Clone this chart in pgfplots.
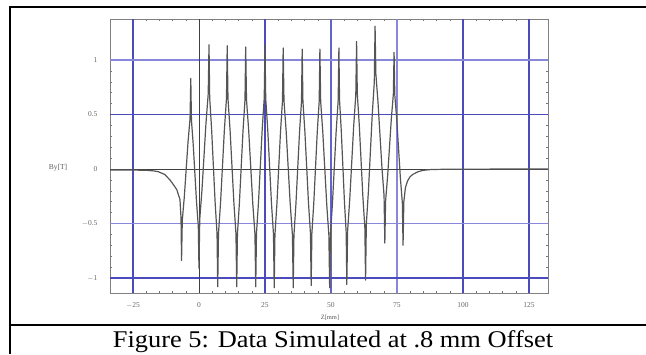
\documentclass[border=0pt]{standalone}
\usepackage{fontspec}
\setmainfont{Liberation Serif}
\usepackage{pgfplots}
\pgfplotsset{compat=1.18}
\usepackage{graphicx}
\definecolor{gridblue}{RGB}{75,75,190}
\definecolor{gridlight}{RGB}{135,135,220}
\definecolor{curvegray}{RGB}{85,85,85}
\begin{document}
\begin{tikzpicture}[x=1pt,y=1pt]
\useasboundingbox (0,0) rectangle (646,354);
% outer frame
\draw[line width=2.2pt] (10,347) -- (646,347);
\draw[line width=2pt] (10,348) -- (10,0);
\draw[line width=2.2pt] (10,29) -- (646,29);
\node[font=\fontsize{24}{25}\selectfont, anchor=base] at (333,6.5) {\scalebox{1.1}[1]{Figure 5: Data Simulated at .8 mm Offset}};
\begin{axis}[
  at={(110pt,61pt)}, anchor=south west,
  scale only axis, width=438pt, height=274pt,
  xmin=-33.7, xmax=132.2, ymin=-1.138, ymax=1.376,
  xtick={-25,0,25,50,75,100,125},
  xticklabels={$-$25,0,25,50,75,100,125},
  ytick={-1,-0.5,0,0.5,1},
  yticklabels={$-$1,$-$0.5,0,0.5,1},
  minor x tick num=4, minor y tick num=4,
  tick align=inside,
  major tick length=3pt, minor tick length=2pt,
  tick style={black!55, line width=0.5pt},
  axis line style={black!50, line width=0.8pt},
  ticklabel style={font=\fontsize{7.5}{8}\selectfont, text=black!60},
  yticklabel style={xshift=-9pt},
  xticklabel style={yshift=-6pt},
  /pgf/number format/assume math mode=true,
  clip=true,
]
% grid
\draw[gridblue, line width=1.1pt] (axis cs:-25,-1.138) -- (axis cs:-25,1.376);
\draw[gridblue, line width=1.1pt] (axis cs:25,-1.138) -- (axis cs:25,1.376);
\draw[gridblue!60!gridlight, line width=1.1pt] (axis cs:50,-1.138) -- (axis cs:50,1.376);
\draw[gridlight, line width=1.1pt] (axis cs:75,-1.138) -- (axis cs:75,1.376);
\draw[gridblue, line width=1.1pt] (axis cs:100,-1.138) -- (axis cs:100,1.376);
\draw[gridblue, line width=1.1pt] (axis cs:125,-1.138) -- (axis cs:125,1.376);
\draw[gridlight, line width=1.1pt] (axis cs:-33.7,1) -- (axis cs:132.2,1);
\draw[gridblue, line width=1.1pt] (axis cs:-33.7,0.5) -- (axis cs:132.2,0.5);
\draw[gridlight, line width=1.1pt] (axis cs:-33.7,-0.5) -- (axis cs:132.2,-0.5);
\draw[gridblue, line width=1.1pt] (axis cs:-33.7,-1) -- (axis cs:132.2,-1);
\draw[black!75, line width=0.9pt] (axis cs:0,-1.138) -- (axis cs:0,1.376);
\draw[black!75, line width=0.9pt] (axis cs:-33.7,0) -- (axis cs:132.2,0);
\addplot[curvegray, line width=1.2pt, line join=round] coordinates {
(-33.7,-0.01) (-25,-0.01) (-20,-0.012) (-17,-0.018) (-15.4,-0.025) (-13,-0.05) (-11,-0.10) (-9.5,-0.15) (-8.4,-0.19) (-7.2,-0.28) (-6.8,-0.45) (-6.6,-0.84)
(-6.32,-0.473) (-5.55,-0.255) (-4.85,-0.005) (-4.15,0.246) (-3.38,0.463) (-3.1,0.83)
(-2.85,0.447) (-2.17,0.221) (-1.55,-0.04) (-0.93,-0.301) (-0.25,-0.527) (0,-0.91)
(0.30,-0.459) (1.14,-0.192) (1.90,0.115) (2.66,0.423) (3.50,0.689) (3.8,1.14)
(4.06,0.652) (4.79,0.363) (5.45,0.03) (6.11,-0.303) (6.84,-0.592) (7.1,-1.08)
(7.39,-0.594) (8.18,-0.306) (8.90,0.025) (9.62,0.357) (10.41,0.644) (10.7,1.13)
(10.99,0.644) (11.78,0.356) (12.50,0.025) (13.22,-0.307) (14.01,-0.594) (14.3,-1.08)
(14.57,-0.596) (15.32,-0.31) (16.0,0.02) (16.68,0.35) (17.43,0.636) (17.7,1.12)
(18.0,0.636) (18.84,0.35) (19.6,0.02) (20.36,-0.31) (21.2,-0.596) (21.5,-1.08)
(21.78,-0.592) (22.55,-0.303) (23.25,0.03) (23.95,0.363) (24.72,0.652) (25.0,1.14)
(25.28,0.649) (26.05,0.359) (26.75,0.025) (27.45,-0.31) (28.22,-0.599) (28.5,-1.09)
(28.77,-0.606) (29.52,-0.32) (30.2,0.01) (30.88,0.34) (31.63,0.626) (31.9,1.11)
(32.2,0.626) (33.04,0.34) (33.8,0.01) (34.56,-0.32) (35.4,-0.606) (35.7,-1.09)
(35.97,-0.608) (36.72,-0.323) (37.4,0.005) (38.08,0.334) (38.83,0.618) (39.1,1.10)
(39.37,0.623) (40.12,0.34) (40.8,0.015) (41.48,-0.311) (42.23,-0.593) (42.5,-1.07)
(42.76,-0.593) (43.49,-0.31) (44.15,0.015) (44.81,0.341) (45.54,0.623) (45.8,1.10)
(46.1,0.618) (46.91,0.333) (47.65,0.005) (48.39,-0.324) (49.2,-0.608) (49.5,-1.09)
(49.78,-0.606) (50.55,-0.32) (51.25,0.01) (51.95,0.34) (52.72,0.626) (53.0,1.11)
(53.24,0.633) (53.9,0.35) (54.5,0.025) (55.1,-0.301) (55.76,-0.583) (56.0,-1.06)
(56.3,-0.569) (57.11,-0.279) (57.85,0.055) (58.59,0.39) (59.4,0.679) (59.7,1.17)
(59.97,0.688) (60.72,0.403) (61.4,0.075) (62.08,-0.254) (62.83,-0.538) (63.1,-1.02)
(63.39,-0.507) (64.18,-0.204) (64.9,0.145) (65.62,0.495) (66.41,0.797) (66.7,1.31)
(67.0,0.872) (67.81,0.613) (68.55,0.315) (69.29,0.016) (70.1,-0.242) (70.4,-0.68)
(70.68,-0.295) (71.45,-0.067) (72.15,0.195) (72.85,0.458) (73.62,0.685) (73.9,1.07)
(74.17,0.681) (74.92,0.45) (75.6,0.185) (76.28,-0.081) (77.03,-0.311) (77.3,-0.70)
(77.6,-0.3) (78.2,-0.17) (79,-0.11) (80,-0.07) (81,-0.05) (83,-0.025) (85,-0.012) (88,-0.005) (95,-0.002) (132.2,0)
};
\end{axis}
\node[font=\fontsize{7.5}{8}\selectfont, text=black!65] at (58,186) {By[T]};
\node[font=\fontsize{6.5}{7}\selectfont, text=black!65] at (330,36) {Z[mm]};
\end{tikzpicture}
\end{document}
